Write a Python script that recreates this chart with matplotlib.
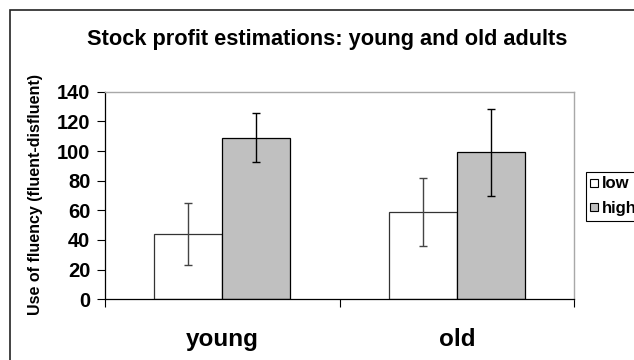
import matplotlib
matplotlib.use("Agg")
import matplotlib.pyplot as plt
from matplotlib.patches import Rectangle
from matplotlib.lines import Line2D
import numpy as np

plt.rcParams['font.family'] = ['Liberation Sans', 'DejaVu Sans']
plt.rcParams['font.weight'] = 'bold'

categories = ["young", "old"]
series_names = ["low", "high"]
low_values = [44, 59]
low_errors = [21, 23]
high_values = [109, 99]
high_errors = [16.5, 29.5]
y_ticks = [0, 20, 40, 60, 80, 100, 120, 140]
title = "Stock profit estimations: young and old adults"
y_label = "Use of fluency (fluent-disfluent)"

W, H = 634, 360
fig = plt.figure(figsize=(W / 100, H / 100), dpi=100)
fig.patch.set_facecolor('white')

# outer chart border
fig.patches.append(Rectangle((10 / W, -0.2), 1.2, 1 - 10 / H + 0.2, transform=fig.transFigure,
                             fill=False, edgecolor='#222222', linewidth=1.2, clip_on=False))

ax = fig.add_axes([105 / W, 1 - 299.3 / H, (574 - 105) / W, (299.3 - 91.7) / H])

x = np.arange(len(categories))
bw = 0.29
ax.bar(x - bw / 2, low_values, bw, color='white', edgecolor='#333333', linewidth=0.9,
       yerr=low_errors, error_kw=dict(ecolor='#444444', elinewidth=1.0, capsize=3, capthick=1.0))
ax.bar(x + bw / 2, high_values, bw, color='#C0C0C0', edgecolor='black', linewidth=0.9,
       yerr=high_errors, error_kw=dict(ecolor='black', elinewidth=1.0, capsize=3, capthick=1.0))

ax.set_xlim(-0.5, len(categories) - 0.5)
ax.set_ylim(0, 140)
ax.set_yticks(y_ticks)
ax.set_yticklabels([str(t) for t in y_ticks], fontsize=14.5, fontweight='bold')
ax.tick_params(axis='y', direction='out', length=5.5, width=0.8, pad=5)

ax.set_xticks(np.arange(len(categories) + 1) - 0.5)
ax.set_xticklabels([''] * (len(categories) + 1))
ax.set_xticks(x, minor=True)
ax.set_xticklabels(categories, minor=True, fontsize=17.5, fontweight='bold')
ax.tick_params(axis='x', which='major', direction='out', length=5.5, width=0.8)
ax.tick_params(axis='x', which='minor', length=0, pad=21)

for s in ['top', 'right']:
    ax.spines[s].set_color('#A8A8A8')
    ax.spines[s].set_linewidth(1.0)
for s in ['left', 'bottom']:
    ax.spines[s].set_color('black')
    ax.spines[s].set_linewidth(0.9)

fig.text(327.5 / W, 1 - 39 / H, title, ha='center', va='center', fontsize=15.7, fontweight='bold')
fig.text(35.5 / W, 1 - 194.5 / H, y_label, ha='center', va='center', rotation=90,
         fontsize=11.5, fontweight='bold')

handles = [Line2D([], [], marker='s', linestyle='none', markersize=5.5, markerfacecolor='white',
                  markeredgecolor='black', markeredgewidth=0.8),
           Line2D([], [], marker='s', linestyle='none', markersize=5.5, markerfacecolor='#C0C0C0',
                  markeredgecolor='black', markeredgewidth=0.8)]
leg = fig.legend(handles, series_names, loc='upper left', bbox_to_anchor=(585.5 / W, 1 - 171.5 / H),
                 frameon=True, fancybox=False, edgecolor='black', framealpha=1,
                 prop=dict(size=12, weight='bold'), handlelength=0.45, handletextpad=0.25,
                 borderpad=0.3, labelspacing=0.55, borderaxespad=0, handleheight=0.7)
leg.get_frame().set_linewidth(0.8)

fig.savefig('out.png', dpi=100, facecolor='white')
